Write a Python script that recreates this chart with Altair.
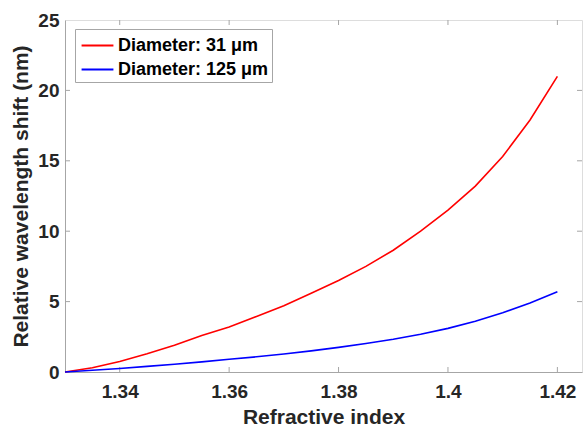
import altair as alt
import pandas as pd

ri = [1.330, 1.335, 1.340, 1.345, 1.350, 1.355, 1.360, 1.365, 1.370, 1.375,
      1.380, 1.385, 1.390, 1.395, 1.400, 1.405, 1.410, 1.415, 1.420]
shift_31 = [0, 0.3, 0.75, 1.3, 1.9, 2.6, 3.2, 3.95, 4.7, 5.6,
            6.5, 7.5, 8.65, 10.0, 11.5, 13.2, 15.3, 17.9, 21.0]
shift_125 = [0, 0.12, 0.25, 0.4, 0.55, 0.72, 0.9, 1.08, 1.28, 1.5,
             1.75, 2.02, 2.32, 2.68, 3.1, 3.6, 4.2, 4.9, 5.7]
series_names = ["Diameter: 31 μm", "Diameter: 125 μm"]
series_colors = ["#ff0000", "#0000ff"]
x_ticks = [1.34, 1.36, 1.38, 1.40, 1.42]
y_ticks = [0, 5, 10, 15, 20, 25]

rows = []
for x, a, b in zip(ri, shift_31, shift_125):
    rows.append({"ri": x, "shift": a, "series": series_names[0]})
    rows.append({"ri": x, "shift": b, "series": series_names[1]})
df = pd.DataFrame(rows)

W, H = 517, 352
xscale = alt.Scale(domain=[1.33, 1.4245], nice=False, zero=False)
yscale = alt.Scale(domain=[0, 25], nice=False)
FONT = "Liberation Sans"
TXT = "#262626"
FRAME = "#a6a6a6"

lines = alt.Chart(df).mark_line(strokeWidth=1.6).encode(
    x=alt.X("ri:Q", scale=xscale, title="Refractive index",
            axis=alt.Axis(values=x_ticks, format="~g", grid=False, ticks=False,
                          labelFont=FONT, labelFontSize=19, labelFontWeight="bold",
                          labelColor=TXT, labelPadding=10,
                          titleFont=FONT, titleFontSize=21, titleFontWeight="bold",
                          titleColor=TXT, titlePadding=5,
                          domainColor=FRAME)),
    y=alt.Y("shift:Q", scale=yscale, title="Relative wavelength shift (nm)",
            axis=alt.Axis(values=y_ticks, grid=False, ticks=False,
                          labelFont=FONT, labelFontSize=19, labelFontWeight="bold",
                          labelColor=TXT, labelPadding=6,
                          titleFont=FONT, titleFontSize=21, titleFontWeight="bold",
                          titleColor=TXT, titlePadding=6,
                          domainColor=FRAME)),
    color=alt.Color("series:N",
                    scale=alt.Scale(domain=series_names, range=series_colors),
                    legend=alt.Legend(title=None, orient="none", legendX=10, legendY=9,
                                      symbolType="M-1.3,0L1.3,0", symbolSize=600,
                                      symbolStrokeWidth=2, symbolFillColor="transparent",
                                      symbolOffset=6,
                                      labelFont=FONT, labelFontSize=18,
                                      labelFontWeight="bold", labelColor="#000000",
                                      labelOffset=7,
                                      strokeColor=FRAME, fillColor="white",
                                      padding=3, rowPadding=1, labelLimit=300)),
)

xt = pd.DataFrame({"t": x_ticks})
yt = pd.DataFrame({"t": y_ticks[1:-1]})
tick_bottom = alt.Chart(xt).mark_rule(color=FRAME).encode(
    x=alt.X("t:Q", scale=xscale), y=alt.value(H), y2=alt.value(H - 5))
tick_top = alt.Chart(xt).mark_rule(color=FRAME).encode(
    x=alt.X("t:Q", scale=xscale), y=alt.value(0), y2=alt.value(5))
tick_left = alt.Chart(yt).mark_rule(color=FRAME).encode(
    y=alt.Y("t:Q", scale=yscale), x=alt.value(0), x2=alt.value(5))
tick_right = alt.Chart(yt).mark_rule(color=FRAME).encode(
    y=alt.Y("t:Q", scale=yscale), x=alt.value(W), x2=alt.value(W - 5))

chart = alt.layer(tick_bottom, tick_top, tick_left, tick_right, lines).properties(
    width=W, height=H,
    autosize=alt.AutoSizeParams(type="none"),
    padding={"left": 65, "top": 20, "right": 1, "bottom": 58},
).configure_view(stroke=FRAME, strokeWidth=1).configure(background="white")

chart.save("out.html", embed_options={"renderer": "svg", "actions": False})
